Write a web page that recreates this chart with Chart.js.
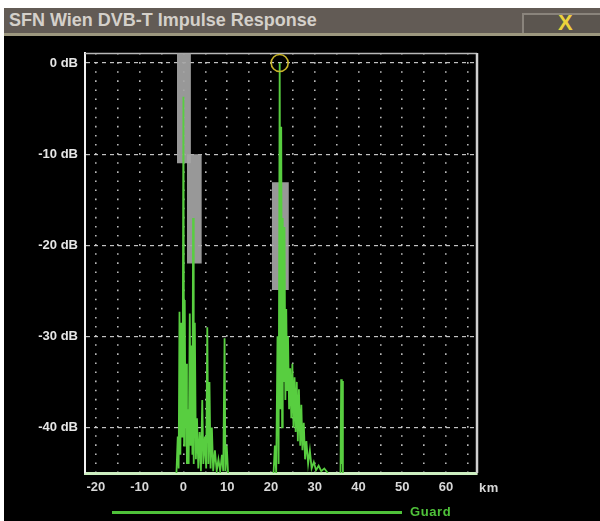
<!DOCTYPE html>
<html><head><meta charset="utf-8">
<script src="https://cdn.jsdelivr.net/npm/chart.js@4/dist/chart.umd.min.js"></script>
<style>
html,body{margin:0;padding:0;background:#fff;width:600px;height:521px;overflow:hidden;font-family:"Liberation Sans",Arial,sans-serif}
#title{position:absolute;left:4px;top:8px;width:596px;height:25px;background:#625b55;border-bottom:3px solid #9d987f;}
#title .t{position:absolute;left:5px;top:2px;color:#d4d0ca;font-size:18px;font-weight:bold;white-space:nowrap}
#close{position:absolute;left:518px;top:5px;width:90px;height:18px;border:2px solid #8a847c;border-bottom:none;background:#5b554f;}
#close span{position:absolute;left:34px;top:-3px;color:#ecd23c;font-weight:bold;font-size:22px;line-height:22px}
#panel{position:absolute;left:4px;top:36px;width:596px;height:485px;background:#000}
#wrap{position:absolute;left:0;top:0;width:600px;height:521px}
#km{position:absolute;left:479px;top:480px;color:#d8d8d8;font-size:13px;font-weight:bold;letter-spacing:0.5px}
#guardline{position:absolute;left:112px;top:511px;width:290px;height:3px;background:#4fc23a}
#guard{position:absolute;left:410px;top:504px;color:#4fc23a;font-size:13px;font-weight:bold;letter-spacing:0.6px}
</style></head>
<body>
<div id="title"><span class="t">SFN Wien DVB-T Impulse Response</span><div id="close"><span>X</span></div></div>
<div id="panel"></div>
<div id="wrap"><canvas id="c" width="600" height="521"></canvas></div>
<div id="km">km</div>
<div id="guardline"></div>
<div id="guard">Guard</div>
<script>
// ---- data ----
const xGridKm = [-20,-15,-10,-5,0,5,10,15,20,25,30,35,40,45,50,55,60,65];
const xLabelKm = [-20,-10,0,10,20,30,40,50,60];
const yTickDb = [0,-10,-20,-30,-40];

const impulseKm = [
 -1.6,-1.3,-1.1,-0.9,-0.7,-0.5,-0.3,-0.15,0.0,0.15,0.3,0.45,0.6,0.8,1.0,1.2,1.45,1.65,1.85,2.05,2.2,2.35,2.6,2.85,3.1,3.4,3.7,4.0,4.3,4.55,4.9,5.2,5.45,5.7,5.95,6.2,6.5,6.8,7.2,7.6,8.0,8.4,8.8,9.1,9.4,9.6,9.9,10.2,
 15,
 20.6,20.9,21.2,21.5,21.75,22.0,22.2,22.35,22.55,22.7,22.9,23.1,23.3,23.5,23.7,23.9,24.15,24.4,24.65,24.9,25.15,25.4,25.65,25.9,26.15,26.4,26.7,26.95,27.2,27.5,27.8,28.1,28.5,28.9,29.3,29.8,30.3,30.9,31.5,32.2,33.0,
 34.5,
 35.9,36.05,36.2,36.3,36.45
];
const impulseDb = [
 -45,-41,-44.5,-27.3,-43,-28.5,-41,-30,-3.7,-42,-26,-40,-33,-44,-38,-44,-27.5,-42,-31,-43,-17,-44,-28.5,-43.5,-39,-44.5,-40.5,-44.8,-37,-44,-41,-44.5,-29,-44,-35,-44.5,-40,-44.8,-42.5,-44.8,-43.5,-44.8,-43,-44.8,-30.2,-44.8,-42,-45,
 null,
 -45,-42,-45,-30,-44,0,-38,-7,-40,-17,-35,-18,-37,-27,-36,-30,-38,-33.5,-39,-33,-40,-34.5,-40.5,-35,-41.5,-35.8,-42,-37.5,-42.5,-39.5,-43.5,-41.5,-44,-42.5,-44.5,-43.8,-44.7,-44.2,-44.8,-44.5,-45,
 null,
 -45,-34.7,-44,-34.9,-45
];

const peakKm = [22.0];
const peakDb = [0];

// gray blocks: [leftKm, rightKm], topDb, bottomDb
const blockLeftKm   = [-1.5, 0.8, 20.2];
const blockRightKm  = [1.7, 4.2, 24.1];
const blockTopDb    = [1.1, -10, -13.1];
const blockBottomDb = [-11, -22, -24.9];

// ---- build ----
const impulseData = impulseKm.map((x,i)=>({x:x,y:impulseDb[i]}));
const datasets = [
  {type:'scatter', data: peakKm.map((x,i)=>({x:x,y:peakDb[i]})), pointRadius:8.5, pointBorderColor:'#c9b52a', pointBackgroundColor:'rgba(0,0,0,0)', pointBorderWidth:1.6, clip:false},
  {type:'line', data: impulseData, borderColor:'#58ce40', borderWidth:1.8, pointRadius:0, spanGaps:false, tension:0},
];
for (let i=0;i<blockLeftKm.length;i++){
  datasets.push({type:'line', data:[{x:blockLeftKm[i],y:blockTopDb[i]},{x:blockRightKm[i],y:blockTopDb[i]}],
    borderWidth:0, pointRadius:0, backgroundColor:'rgba(165,165,165,0.92)', fill:{value:blockBottomDb[i]}});
}

const frame = {
  id:'frame',
  beforeDatasetsDraw(chart){
    const {ctx, chartArea:a} = chart;
    ctx.save();
    ctx.strokeStyle='#b8b8b8'; ctx.lineWidth=1.5;
    ctx.beginPath(); ctx.moveTo(a.left, a.top+0.5); ctx.lineTo(a.right, a.top+0.5); ctx.stroke();
    ctx.strokeStyle='#d0d0d0'; ctx.lineWidth=2.5;
    ctx.beginPath(); ctx.moveTo(a.right, a.top); ctx.lineTo(a.right, a.bottom); ctx.stroke();
    ctx.restore();
  }
};

const tickFont = {family:'"Liberation Sans", Arial, sans-serif', size:13, weight:'bold'};

new Chart(document.getElementById('c'), {
  type:'line',
  data:{datasets},
  plugins:[frame],
  options:{
    responsive:false, animation:false,
    layout:{padding:{left:0,top:53,right:123,bottom:18}},
    plugins:{legend:{display:false}, tooltip:{enabled:false}},
    scales:{
      x:{type:'linear', min:-22.5, max:67.1,
        afterBuildTicks:s=>{ s.ticks = xGridKm.map(v=>({value:v})); },
        afterFit:s=>{ s.height = 30; },
        ticks:{color:'#d8d8d8', font:tickFont, padding:7, maxRotation:0, autoSkip:false,
          callback:v=> xLabelKm.includes(v) ? String(v) : ''},
        grid:{color:'rgba(205,205,205,0.9)', lineWidth:1.6, drawTicks:false},
        border:{display:true, color:'#cdeec0', width:3, dash:[1.6,7.5], dashOffset:0}
      },
      y:{type:'linear', min:-45, max:1.1,
        afterBuildTicks:s=>{ s.ticks = yTickDb.map(v=>({value:v})); },
        afterFit:s=>{ s.width = 85; },
        ticks:{color:'#e6e6e6', font:tickFont, padding:7,
          callback:v=> v + ' dB'},
        grid:{color:'rgba(215,215,215,0.9)', lineWidth:1.2, drawTicks:false},
        border:{display:true, color:'#f2f2f2', width:2, dash:[4,4]}
      }
    }
  }
});
</script>
</body></html>
